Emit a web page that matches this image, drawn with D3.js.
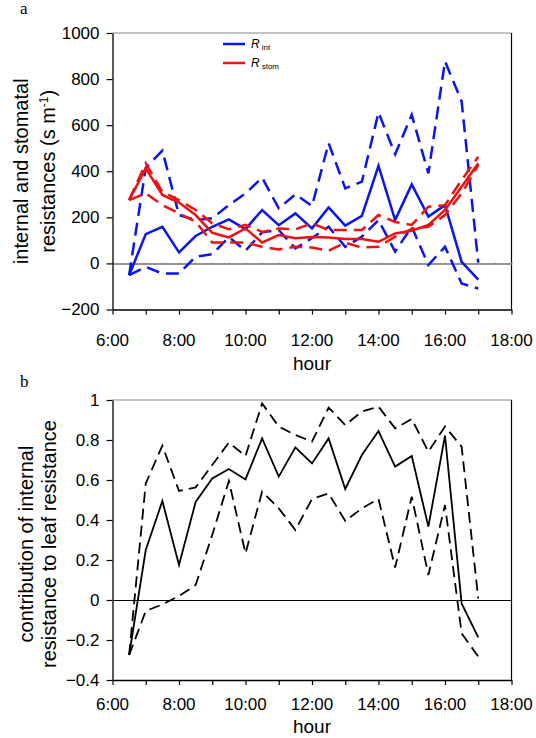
<!DOCTYPE html>
<html>
<head>
<meta charset="utf-8">
<script src="https://cdn.jsdelivr.net/npm/d3@7"></script>
<style>
  body { margin: 0; background: #fff; }
  text { font-family: 'Liberation Sans', Arial, sans-serif; }
  .panel-letter { font-family: 'Liberation Serif', 'Times New Roman', serif; }
</style>
</head>
<body>
<svg></svg>
<script>
// half-hourly observations, 6:30 .. 17:00
const hours = ['6:30', '7:00', '7:30', '8:00', '8:30', '9:00', '9:30', '10:00', '10:30', '11:00', '11:30',
  '12:00', '12:30', '13:00', '13:30', '14:00', '14:30', '15:00', '15:30', '16:00', '16:30', '17:00'];

// panel a: resistances (s m-1)
const rIntMean = [-51, 127, 159, 48, 119, 159, 191, 149, 232, 166, 217, 152, 243, 164, 206, 423, 188, 343, 203, 253, 7, -70];
const rIntUpper = [-51, 415, 490, 210, 188, 196, 253, 304, 372, 239, 300, 249, 522, 326, 355, 655, 474, 645, 391, 877, 703, 3];
const rIntLower = [-51, -15, -44, -44, 29, 40, 114, 55, 135, 145, 65, 110, 159, 72, 116, 188, 51, 159, -7, 72, -87, -109];
const rStomMean = [275, 413, 297, 264, 210, 133, 113, 152, 91, 123, 109, 115, 112, 106, 106, 94, 130, 142, 167, 232, 333, 435];
const rStomUpper = [275, 435, 311, 275, 232, 174, 148, 167, 137, 152, 148, 174, 145, 145, 145, 210, 180, 167, 246, 253, 362, 463];
const rStomLower = [275, 304, 253, 217, 181, 91, 91, 91, 72, 61, 72, 69, 55, 90, 69, 72, 116, 150, 159, 210, 304, 427];

// panel b: contribution of internal resistance
const contribMean = [-0.275, 0.25, 0.495, 0.175, 0.49, 0.608, 0.655, 0.603, 0.808, 0.617, 0.763, 0.683, 0.808, 0.555, 0.725, 0.845, 0.667, 0.72, 0.367, 0.822, -0.017, -0.187];
const contribUpper = [-0.275, 0.583, 0.772, 0.545, 0.563, 0.675, 0.787, 0.72, 0.983, 0.867, 0.825, 0.792, 0.962, 0.875, 0.942, 0.967, 0.858, 0.905, 0.742, 0.867, 0.767, 0.008];
const contribLower = [-0.275, -0.055, -0.022, 0.02, 0.075, 0.325, 0.595, 0.233, 0.542, 0.458, 0.35, 0.505, 0.533, 0.395, 0.458, 0.505, 0.162, 0.517, 0.125, 0.475, -0.167, -0.283];

const xTickLabels = ['6:00', '8:00', '10:00', '12:00', '14:00', '16:00', '18:00'];
const yTicksA = [-200, 0, 200, 400, 600, 800, 1000];
const yTicksB = [-0.4, -0.2, 0, 0.2, 0.4, 0.6, 0.8, 1];

const width = 536;
const height = 738;

const svg = d3.select('svg')
  .attr('width', width)
  .attr('height', height);

const toHour = (s) => {
  const p = s.split(':');
  return +p[0] + (+p[1]) / 60;
};
const hourValues = hours.map(toHour);
const labelHours = xTickLabels.map(toHour);
const allHours = d3.range(labelHours[0], labelHours[labelHours.length - 1] + 1);

const xScale = d3.scaleLinear()
  .domain([labelHours[0], labelHours[labelHours.length - 1]])
  .range([112.5, 511.5]);

const blue = '#0a14f0';
const red = '#f01010';

function drawPanel(cfg) {
  const g = svg.append('g');
  const y = cfg.yScale;
  const [x0, x1] = xScale.range();
  const [yb, yt] = y.range();

  // top and right frame
  g.append('line').attr('x1', x0).attr('x2', x1).attr('y1', yt).attr('y2', yt)
    .attr('stroke', '#888').attr('stroke-width', 1.2);
  g.append('line').attr('x1', x1).attr('x2', x1).attr('y1', yt).attr('y2', yb)
    .attr('stroke', '#000').attr('stroke-width', 1.2);

  // zero line with half-hour marks
  const zero = g.append('g')
    .attr('transform', `translate(0, ${y(0)})`)
    .call(d3.axisBottom(xScale)
      .tickValues(cfg.zeroTicks ? d3.range(6, 18.01, 0.5) : [])
      .tickSize(2)
      .tickSizeOuter(0)
      .tickFormat(''));
  zero.select('.domain').attr('stroke', cfg.zeroColor).attr('stroke-width', cfg.zeroWidth);
  zero.selectAll('.tick line').attr('stroke', '#999').attr('transform', 'translate(0,-1)');

  // x axis
  const xa = g.append('g')
    .attr('transform', `translate(0, ${yb})`)
    .call(d3.axisBottom(xScale)
      .tickValues(allHours)
      .tickSize(5)
      .tickSizeOuter(0)
      .tickFormat(''));
  xa.select('.domain').attr('stroke-width', 1.3);
  xa.selectAll('.tick line').attr('stroke-width', 1.2);

  g.selectAll('.xlab')
    .data(xTickLabels)
    .enter()
    .append('text')
    .attr('x', (d) => xScale(toHour(d)))
    .attr('y', yb + cfg.tickLabelDy)
    .attr('text-anchor', 'middle')
    .style('font-size', '17px')
    .text((d) => d);

  g.append('text')
    .attr('x', (x0 + x1) / 2)
    .attr('y', yb + cfg.hourDy)
    .attr('text-anchor', 'middle')
    .style('font-size', '19px')
    .text('hour');

  // y axis
  const ya = g.append('g')
    .attr('transform', `translate(${x0}, 0)`)
    .call(d3.axisLeft(y)
      .tickValues(cfg.yTicks)
      .tickSize(6)
      .tickSizeOuter(0)
      .tickPadding(7)
      .tickFormat(cfg.yFormat));
  ya.select('.domain').attr('stroke-width', 1.3);
  ya.selectAll('.tick line').attr('stroke-width', 1.2);
  ya.selectAll('.tick text')
    .style('font-family', "'Liberation Sans', Arial, sans-serif")
    .style('font-size', '17px')
    .attr('fill', '#000');

  // y label, two lines
  const midY = (yb + yt) / 2 + cfg.yLabelShift;
  cfg.yLabel.forEach((txt, i) => {
    g.append('text')
      .attr('transform', `translate(${cfg.yLabelX[i]}, ${midY}) rotate(-90)`)
      .attr('text-anchor', 'middle')
      .style('font-size', '20px')
      .html(txt);
  });

  // panel letter
  g.append('text')
    .attr('class', 'panel-letter')
    .attr('x', 20)
    .attr('y', cfg.letterY)
    .style('font-size', '17px')
    .text(cfg.letter);

  return g;
}

function drawSeries(g, yScale, values, color, width, dash) {
  const line = d3.line()
    .x((d, i) => xScale(hourValues[i]))
    .y((d) => yScale(d));
  g.append('path')
    .datum(values)
    .attr('d', line)
    .attr('fill', 'none')
    .attr('stroke', color)
    .attr('stroke-width', width)
    .attr('stroke-linejoin', 'miter')
    .attr('stroke-dasharray', dash);
}

/*********** panel a ************/
const yScaleA = d3.scaleLinear()
  .domain([yTicksA[0], yTicksA[yTicksA.length - 1]])
  .range([309.5, 33]);

const panelA = drawPanel({
  yScale: yScaleA,
  yTicks: yTicksA,
  yFormat: d3.format('d'),
  zeroColor: '#707070',
  zeroWidth: 1.5,
  zeroTicks: true,
  tickLabelDy: 36,
  hourDy: 60,
  yLabel: ['internal and stomatal', 'resistances (s m<tspan dy="-7" font-size="12px">-1</tspan><tspan dy="7">)</tspan>'],
  yLabelX: [28, 55],
  yLabelShift: 0,
  letter: 'a',
  letterY: 14
});

drawSeries(panelA, yScaleA, rIntUpper, blue, 2.5, '13,7');
drawSeries(panelA, yScaleA, rIntLower, blue, 2.5, '13,7');
drawSeries(panelA, yScaleA, rIntMean, blue, 2.5, null);
drawSeries(panelA, yScaleA, rStomUpper, red, 2.5, '13,7');
drawSeries(panelA, yScaleA, rStomLower, red, 2.5, '13,7');
drawSeries(panelA, yScaleA, rStomMean, red, 2.5, null);

// legend
const legendItems = [
  { sub: 'int', color: blue },
  { sub: 'stom', color: red }
];
const legend = panelA.append('g').attr('transform', 'translate(223, 44)');
legendItems.forEach((d, i) => {
  const row = legend.append('g').attr('transform', `translate(0, ${i * 19})`);
  row.append('line').attr('x1', 0).attr('x2', 22).attr('stroke', d.color).attr('stroke-width', 2.5);
  const t = row.append('text').attr('x', 28).attr('y', 4).style('font-size', '12px');
  t.append('tspan').style('font-style', 'italic').text('R');
  t.append('tspan').attr('dx', 2).attr('dy', 2).style('font-size', '8px').text(d.sub);
});

/*********** panel b ************/
const yScaleB = d3.scaleLinear()
  .domain([yTicksB[0], yTicksB[yTicksB.length - 1]])
  .range([680, 400]);

const panelB = drawPanel({
  yScale: yScaleB,
  yTicks: yTicksB,
  yFormat: (d) => d3.format('')(+d.toFixed(1)),
  zeroColor: '#000',
  zeroWidth: 1,
  zeroTicks: false,
  tickLabelDy: 30,
  hourDy: 53,
  yLabel: ['contribution of internal', 'resistance to leaf resistance'],
  yLabelX: [33, 56],
  yLabelShift: 4,
  letter: 'b',
  letterY: 387
});

drawSeries(panelB, yScaleB, contribUpper, '#000', 1.8, '11,6');
drawSeries(panelB, yScaleB, contribLower, '#000', 1.8, '11,6');
drawSeries(panelB, yScaleB, contribMean, '#000', 1.8, null);
</script>
</body>
</html>
